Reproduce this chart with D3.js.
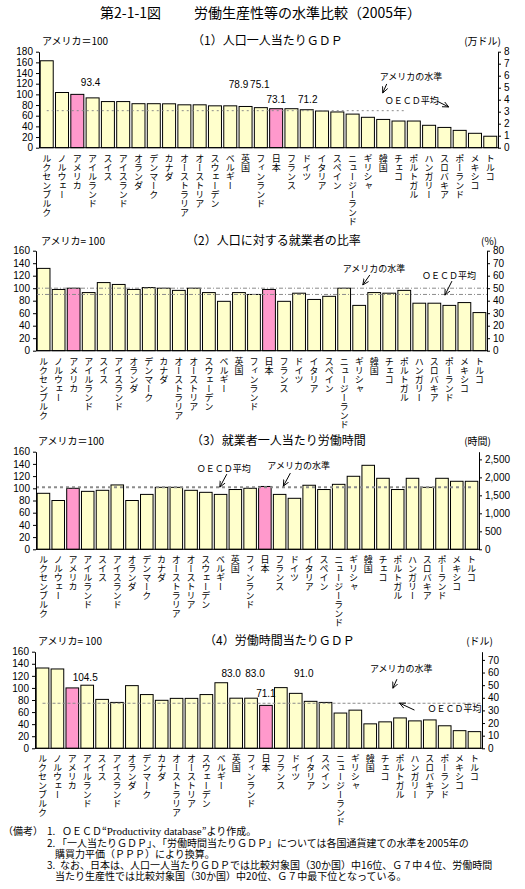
<!DOCTYPE html>
<html>
<head>
<meta charset="utf-8">
<script src="https://cdn.jsdelivr.net/npm/d3@7"></script>
<style>
body{margin:0;background:#fff;}
svg text{font-family:"Noto Sans CJK JP","Noto Sans",sans-serif;fill:#000;}
svg text.num{font-family:"Liberation Sans",Arial,sans-serif;}
</style>
</head>
<body>
<svg id="chart" width="525" height="889"></svg>
<script>
// countries, sorted as in the source (by GDP per head)
var countries = ["ルクセンブルク","ノルウェー","アメリカ","アイルランド","スイス","アイスランド","オランダ","デンマーク","カナダ","オーストラリア",
	"オーストリア","スウェーデン","ベルギー","英国","フィンランド","日本","フランス","ドイツ","イタリア","スペイン",
	"ニュージーランド","ギリシャ","韓国","チェコ","ポルトガル","ハンガリー","スロバキア","ポーランド","メキシコ","トルコ"];
var highlight = ["アメリカ","日本"];

// all values: USA = 100
var gdpPerCapita = [163,103.5,100,93.4,86.5,86.5,82.5,82.5,82.3,80.4,80.4,78.5,78.5,77.3,75.1,73.1,73.1,71.2,68.8,67,63,57,53,50,50,42,38,32.5,27,21.5];
var employmentRatio = [131.7,98,100,93,109,106,98,101,100,96.5,100,93,79,93,90,98,79,92,82,87,100,72.5,93,92,96.5,76,76,72.5,77,61];
var hoursPerWorker = [91.8,80,100,95,96.7,105.5,80,90,101.6,101.6,96.7,93.4,90,98,100,103,90,83.6,105,98,106.5,119.7,137.7,116.4,98,116.4,101.6,116.4,111.5,111.5];
var gdpPerHour = [133,131.4,100,104.5,81,76,103.8,89,79.5,82.7,82.7,89,108.6,83,83,71.1,100.5,91,77.8,76,58.4,63.2,40.5,43.8,50.3,45.4,47,37.3,29.2,27.6];

// reference levels
var oecd1 = 69.4;
var usLevel2 = 100, oecd2 = 90;
var level3 = 101.6;
var oecd4 = 74.6;

// value labels shown above some bars
var labels1 = [["アイルランド","93.4"],["英国","78.9"],["フィンランド","75.1"],["日本","73.1"],["ドイツ","71.2"]];
var labels4 = [["アイルランド","104.5"],["英国","83.0"],["フィンランド","83.0"],["日本","71.1"],["ドイツ","91.0"]];

var notes = [
	"（備考）",
	"1.",
	"2.",
	"「一人当たりＧＤＰ」、「労働時間当たりＧＤＰ」については各国通貨建ての水準を2005年の",
	"購買力平価（ＰＰＰ）により換算。",
	"3.",
	"なお、日本は、人口一人当たりＧＤＰでは比較対象国（30か国）中16位、Ｇ７中４位、労働時間",
	"当たり生産性では比較対象国（30か国）中20位、Ｇ７中最下位となっている。"
];

var svg = d3.select("#chart");
svg.append("rect").attr("width",525).attr("height",889).attr("fill","#fff");

svg.append("defs").append("marker")
	.attr("id","arr")
	.attr("viewBox","0 0 8 8")
	.attr("refX",7).attr("refY",4)
	.attr("markerWidth",7).attr("markerHeight",7)
	.attr("markerUnits","userSpaceOnUse")
	.attr("orient","auto")
	.append("path")
	.attr("d","M0,0.8 L7,4 L0,7.2")
	.attr("fill","none").attr("stroke","#000").attr("stroke-width",1);

var head = svg.append("text").attr("y",18).style("font-size","14px");
head.append("tspan").attr("x",100).text("第2-1-1図");
head.append("tspan").attr("x",194).text("労働生産性等の水準比較（2005年）");

var panels = [
	{values:gdpPerCapita, top:51.7, bottom:147.7, left:39, right:498, yMax:180, rMax:8, rTicks:d3.range(0,9), rFmt:d3.format("d"),
		base:"アメリカ＝100", title:"（1）人口一人当たりＧＤＰ", unit:"(万ドル)", unitEnd:501, headY:45, baseX:42, titleX:192,
		lines:[{v:oecd1, from:"ルクセンブルク", to:"チェコ", w:1, dash:"2,3"}],
		valueLabels:labels1, labelOff:[-2,-7,-1,0,1], labelV:[116,112,112,84,84],
		notes:[{t:"アメリカの水準", c:"韓国", dx:3, v:127, arrow:[7,4,3,13]},
			{t:"ＯＥＣＤ平均", c:"韓国", dx:8, v:82, arrow:[52,-3,64,3]}]},
	{values:employmentRatio, top:250.7, bottom:350.7, left:36, right:487, yMax:160, rMax:80, rTicks:d3.range(0,81,10), rFmt:d3.format("d"),
		base:"アメリカ= 100", title:"（2）人口に対する就業者の比率", unit:"(%)", unitEnd:497, headY:245, baseX:41, titleX:186,
		lines:[{v:usLevel2, from:null, to:null, w:1, dash:"4,2,1,2"},{v:oecd2, from:null, to:null, w:1, dash:"4,2,1,2"}],
		valueLabels:[], labelOff:[], labelV:[],
		notes:[{t:"アメリカの水準", c:"ギリシャ", dx:-10, v:126, arrow:[27,3,20,13]},
			{t:"ＯＥＣＤ平均", c:"ハンガリー", dx:9, v:114.5, arrow:[30,2,23,16]}]},
	{values:hoursPerWorker, top:451.7, bottom:549.3, left:36, right:479, yMax:160, rMax:2713, rTicks:d3.range(0,2501,500), rFmt:d3.format(","),
		base:"アメリカ＝100", title:"（3）就業者一人当たり労働時間", unit:"(時間)", unitEnd:491, headY:445, baseX:38, titleX:191,
		lines:[{v:level3, from:null, to:"トルコ", w:2, dash:"3,3"}],
		valueLabels:[], labelOff:[], labelV:[],
		notes:[{t:"ＯＥＣＤ平均", c:"オーストリア", dx:12, v:126.5, arrow:[30,2,23,15]},
			{t:"アメリカの水準", c:"フランス", dx:-6, v:131.5, arrow:[23,4,16,17]}]},
	{values:gdpPerHour, top:651.7, bottom:748.3, left:35, right:482, yMax:160, rMax:76.5, rTicks:d3.range(0,71,10), rFmt:d3.format("d"),
		base:"アメリカ= 100", title:"（4）労働時間当たりＧＤＰ", unit:"(ドル)", unitEnd:493, headY:645, baseX:38, titleX:204,
		lines:[{v:oecd4, from:"ルクセンブルク", to:null, w:1, dash:"3,2"}],
		valueLabels:labels4, labelOff:[-2,-5,4,0,8], labelV:[111,118,118,85,118],
		notes:[{t:"アメリカの水準", c:"韓国", dx:6, v:126, arrow:[27,7,23,16]},
			{t:"ＯＥＣＤ平均", c:"スロバキア", dx:4, v:60, arrow:[-13,-2,-28,-9]}]}
];

panels.forEach(drawPanel);

function drawPanel(p){
	var g = svg.append("g");
	var x = d3.scaleBand().domain(countries).range([p.left,p.right]).paddingInner(0.15).paddingOuter(0.08);
	var y = d3.scaleLinear().domain([0,p.yMax]).range([p.bottom,p.top]);
	var yR = d3.scaleLinear().domain([0,p.rMax]).range([p.bottom,p.top]);
	var bw = x.bandwidth();

	// headers
	g.append("text").attr("x",p.baseX).attr("y",p.headY).style("font-size","10px").text(p.base);
	g.append("text").attr("x",p.titleX).attr("y",p.headY).style("font-size","12px").text(p.title);
	g.append("text").attr("x",p.unitEnd).attr("y",p.headY).attr("text-anchor","end").style("font-size","10px").text(p.unit);

	g.selectAll("rect.bar")
		.data(p.values)
		.enter().append("rect")
		.attr("class","bar")
		.attr("x",function(d,i){return x(countries[i]);})
		.attr("y",function(d){return y(d);})
		.attr("width",bw)
		.attr("height",function(d){return p.bottom - y(d);})
		.attr("fill",function(d,i){return highlight.indexOf(countries[i]) >= 0 ? "#FF99CC" : "#FFFFCC";})
		.attr("stroke","#000")
		.attr("stroke-width",1);

	// reference lines
	p.lines.forEach(function(l){
		var x0 = l.from ? x(l.from) + bw/2 : p.left;
		var x1 = l.to ? x(l.to) + (l.to == "トルコ" ? bw/2 : bw) : p.right;
		g.append("line")
			.attr("x1",x0).attr("x2",x1)
			.attr("y1",y(l.v)).attr("y2",y(l.v))
			.attr("stroke","#8c8c8c")
			.attr("stroke-width",l.w)
			.attr("stroke-dasharray",l.dash);
	});

	// axes
	var ax = g.append("g").attr("transform","translate("+p.left+",0)")
		.call(d3.axisLeft(y).tickValues(d3.range(0,p.yMax+1,20)).tickSize(3).tickSizeOuter(0).tickPadding(3));
	var axR = g.append("g").attr("transform","translate("+p.right+",0)")
		.call(d3.axisRight(yR).tickValues(p.rTicks).tickFormat(p.rFmt).tickSize(3).tickSizeOuter(0).tickPadding(3));
	[ax,axR].forEach(function(a){
		a.selectAll("text").attr("class","num").style("font-size","10px");
		a.select(".domain").attr("stroke","#000");
	});
	g.append("line")
		.attr("x1",p.left).attr("x2",p.right)
		.attr("y1",p.bottom).attr("y2",p.bottom)
		.attr("stroke","#000");

	// category labels, written top to bottom
	g.selectAll("text.cat")
		.data(countries)
		.enter().append("text")
		.attr("class","cat")
		.attr("x",function(d){return x(d) + bw/2;})
		.attr("y",p.bottom + 6)
		.style("writing-mode","vertical-rl")
		.style("font-size","9px")
		.text(function(d){return d;});

	// value labels
	p.valueLabels.forEach(function(l,i){
		g.append("text")
			.attr("class","num")
			.attr("x",x(l[0]) + bw/2 + p.labelOff[i])
			.attr("y",y(p.labelV[i]))
			.attr("text-anchor","middle")
			.style("font-size","10px")
			.text(l[1]);
	});

	// annotations with arrows
	p.notes.forEach(function(n){
		var tx = x(n.c) + n.dx, ty = y(n.v);
		g.append("text").attr("x",tx).attr("y",ty).style("font-size","9px").text(n.t);
		g.append("line")
			.attr("x1",tx + n.arrow[0]).attr("y1",ty + n.arrow[1])
			.attr("x2",tx + n.arrow[2]).attr("y2",ty + n.arrow[3])
			.attr("stroke","#000").attr("stroke-width",1)
			.attr("marker-end","url(#arr)");
	});
}

// notes under the chart, one text block
var nt = svg.append("text").style("font-size","10px");
nt.append("tspan").attr("x",3).attr("y",835).text(notes[0]);
nt.append("tspan").attr("x",47).text(notes[1]);
nt.append("tspan").attr("x",62).text("ＯＥＣＤ“");
nt.append("tspan").style("font-family","'Liberation Serif',serif").style("font-size","11px").text("Productivity database");
nt.append("tspan").text("”より作成。");
nt.append("tspan").attr("x",47).attr("y",846.5).text(notes[2]);
nt.append("tspan").attr("x",57).text(notes[3]);
nt.append("tspan").attr("x",55).attr("y",857.5).text(notes[4]);
nt.append("tspan").attr("x",47).attr("y",869).text(notes[5]);
nt.append("tspan").attr("x",60).text(notes[6]);
nt.append("tspan").attr("x",55).attr("y",880).text(notes[7]);
</script>
</body>
</html>
